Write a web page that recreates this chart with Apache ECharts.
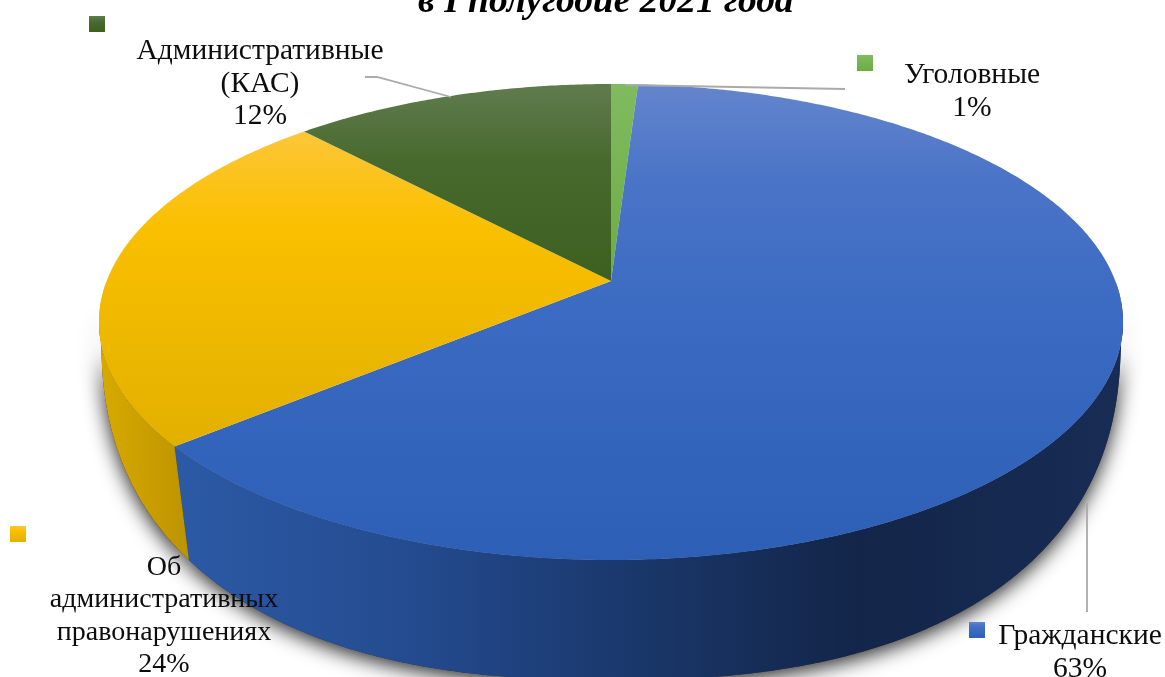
<!DOCTYPE html>
<html>
<head>
<meta charset="utf-8">
<style>
  html, body { margin: 0; padding: 0; background: #fff; }
  #chart { width: 1165px; height: 677px; overflow: hidden; }
</style>
</head>
<body>
<div id="chart"></div>
<script src="https://cdn.jsdelivr.net/npm/echarts@6/dist/echarts.min.js"></script>
<script>
// clockwise from the top of the pie
var categories = ['Уголовные', 'Гражданские', 'Об\nадминистративных\nправонарушениях', 'Административные\n(КАС)']
var values = [1, 63, 24, 12]
var percentLabels = ['1%', '63%', '24%', '12%']
var titleText = 'в I полугодие 2021 года'

var topStops = [
  [[0, '#80bb5f'], [1, '#6cac44']],
  [[0, '#6485cd'], [0.2, '#4a74c7'], [0.5, '#3a6ac2'], [1, '#2d5fb7']],
  [[0, '#fdc638'], [0.3, '#fac000'], [1, '#e2b000']],
  [[0, '#607c4e'], [0.4, '#47692d'], [1, '#3d6020']]
]
var wallStops = [
  [[0, '#5a8a3a'], [1, '#4a7530']],
  [[0, '#2c5aa6'], [0.25, '#244b8f'], [0.45, '#1b3a70'], [0.72, '#132548'], [1, '#182c55']],
  [[0, '#d8aa00'], [1, '#bd9400']],
  [[0, '#2f4a18'], [1, '#2f4a18']]
]
var legendPos = [[857, 55], [969, 622], [10, 526], [89, 16]]
var labelPos = [[972, 59], [1080, 620], [164, 551], [260, 35]]
var labelSize = [29.5, 29.5, 28, 29.5]
var leaderLines = [
  [[845, 89], [625, 85]],
  [[1087, 503], [1087, 612]],
  [],
  [[365, 77], [377, 77], [451, 97]]
]

// top face is an ellipse, bottom rim is a bit squarer (power) to follow the body outline
// skew moves the disc centre up, as the perspective of the picture does
var topRim = { cx: 611, cy: 322, rx: 512, ry: 238, skew: 0.172, power: 2 }
var bottomRim = { cx: 611, cy: 330, rx: 510, ry: 350, skew: 0.054, power: 2.4 }

function warp(v, power) {
  return (v < 0 ? -1 : 1) * Math.pow(Math.abs(v), 2 / power)
}

function project(rim, deg) {
  var a = deg * Math.PI / 180
  var x = Math.sin(a)
  var y = Math.cos(a)
  var d = 1 + rim.skew * y
  return [
    rim.cx + rim.rx * warp(x * Math.sqrt(1 - rim.skew * rim.skew) / d, rim.power),
    rim.cy - rim.ry * warp((y + rim.skew) / d, rim.power)
  ]
}

function arcPoints(rim, from, to) {
  var pts = []
  var n = Math.max(2, Math.ceil((to - from) * 2))
  for (var i = 0; i <= n; i++) {
    pts.push(project(rim, from + (to - from) * i / n))
  }
  return pts
}

function sliceAngles(index) {
  var total = values.reduce(function(s, v) { return s + v }, 0)
  var before = values.slice(0, index).reduce(function(s, v) { return s + v }, 0)
  return [before / total * 360, (before + values[index]) / total * 360]
}

function gradient(stops, horizontal) {
  return new echarts.graphic.LinearGradient(0, 0, horizontal ? 1 : 0, horizontal ? 0 : 1,
    stops.map(function(s) { return { offset: s[0], color: s[1] } }))
}

// only the front of the body is drawn, margin keeps the shadow lower on the sides
function wallPoints(index, margin) {
  var ang = sliceAngles(index)
  var front = Math.max(ang[0], 90 + margin)
  var back = Math.min(ang[1], 270 - margin)
  if (back <= front) {
    return null
  }
  return arcPoints(topRim, front, back).concat(arcPoints(bottomRim, front, back).reverse())
}

var series = []

values.forEach(function(v, i) {
  series.push({
    type: 'custom',
    coordinateSystem: 'none',
    name: 'shadow' + i,
    z: 1,
    silent: true,
    data: [v],
    renderItem: function() {
      var pts = wallPoints(i, 8)
      if (!pts) {
        return null
      }
      return {
        type: 'polygon',
        shape: { points: pts },
        style: { fill: '#333', shadowBlur: 20, shadowOffsetY: 5, shadowColor: 'rgba(0,0,0,0.85)' }
      }
    }
  })
})

values.forEach(function(v, i) {
  series.push({
    type: 'custom',
    coordinateSystem: 'none',
    name: 'wall' + i,
    z: 2,
    silent: true,
    data: [v],
    renderItem: function() {
      var pts = wallPoints(i, 0)
      if (!pts) {
        return null
      }
      return {
        type: 'polygon',
        shape: { points: pts },
        style: { fill: gradient(wallStops[i], true) }
      }
    }
  })
})

values.forEach(function(v, i) {
  series.push({
    type: 'custom',
    coordinateSystem: 'none',
    name: categories[i],
    z: 3,
    silent: true,
    itemStyle: { color: gradient(topStops[i], false) },
    data: [v],
    renderItem: function() {
      var ang = sliceAngles(i)
      var apex = [topRim.cx, topRim.cy - topRim.ry * topRim.skew]
      return {
        type: 'polygon',
        shape: { points: [apex].concat(arcPoints(topRim, ang[0], ang[1])) },
        style: { fill: gradient(topStops[i], false) }
      }
    }
  })
})

var legends = categories.map(function(name, i) {
  return {
    data: [name],
    left: legendPos[i][0],
    top: legendPos[i][1],
    padding: 0,
    itemWidth: 16,
    itemHeight: 16,
    icon: 'rect',
    selectedMode: false,
    formatter: function() { return '' }
  }
})

var graphics = []
categories.forEach(function(name, i) {
  graphics.push({
    type: 'text',
    z: 10,
    x: labelPos[i][0],
    y: labelPos[i][1],
    style: {
      text: name + '\n' + percentLabels[i],
      font: labelSize[i] + 'px "Liberation Serif"',
      lineHeight: 32.5,
      fill: '#0d0d0d',
      align: 'center',
      verticalAlign: 'top'
    }
  })
  if (leaderLines[i].length) {
    graphics.push({
      type: 'polyline',
      z: 9,
      shape: { points: leaderLines[i] },
      style: { stroke: '#aaa', lineWidth: 1.8, fill: null }
    })
  }
})

var chart = echarts.init(document.getElementById('chart'))
chart.setOption({
  animation: false,
  backgroundColor: '#fff',
  title: {
    text: titleText,
    left: 418,
    top: -17,
    padding: 0,
    textStyle: {
      fontFamily: 'Liberation Serif',
      fontWeight: 'bold',
      fontStyle: 'italic',
      fontSize: 37.5,
      color: '#000'
    }
  },
  legend: legends,
  series: series,
  graphic: graphics
})
</script>
</body>
</html>
